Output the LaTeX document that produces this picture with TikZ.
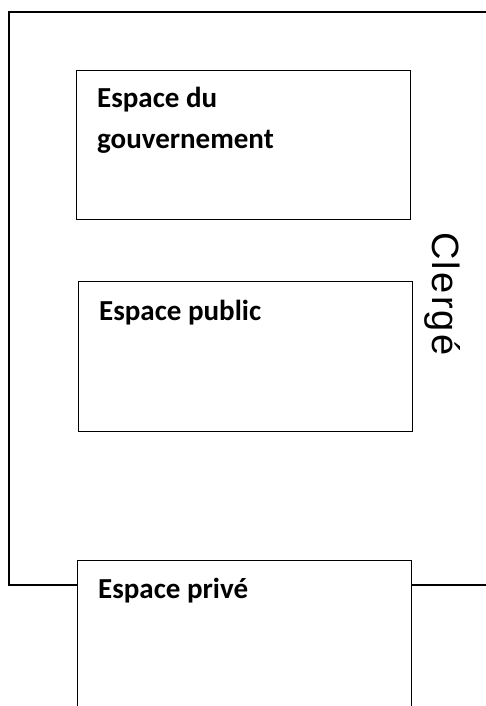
\documentclass[tikz,border=0pt]{standalone}
\usepackage{fontspec}
\setmainfont{Carlito}
\newfontfamily\clergefont{Liberation Sans}[LetterSpace=6]
\begin{document}
\begin{tikzpicture}[x=1pt,y=-1pt,
  frameline/.style={draw=black,line width=1.2pt},
  spacebox/.style={draw=black,line width=1.2pt,rectangle,inner sep=0pt,anchor=north west},
  label/.style={font=\fontsize{29}{40}\selectfont\bfseries,anchor=base west,inner sep=0pt,align=left}]
\useasboundingbox (0,0) rectangle (486,706);
\clip (0,0) rectangle (486,706);
% boxes
\node[spacebox,minimum width=334pt,minimum height=149pt] (gov) at (76,70) {};
\node[spacebox,minimum width=334pt,minimum height=150pt] (pub) at (78,281) {};
\node[spacebox,minimum width=334pt,minimum height=170pt] (priv) at (77,560) {};
% frame
\coordinate (ftr) at (495,12);
\coordinate (fbr) at (495,585);
\coordinate (fbl) at (9,585);
\coordinate (ftl) at (9,12);
\coordinate (pl) at (priv.west |- fbl);
\coordinate (pr) at (priv.east |- fbr);
\draw[frameline] (pl) -- (fbl) -- (ftl) -- (ftr);
\draw[frameline] (pr) -- (fbr);
% labels
\node[label] (govt) at (97,108) {Espace du};
\node[label] (govt2) at (97,148) {gouvernement};
\node[label] (pubt) at (99,320) {Espace public};
\node[label] (privt) at (98,598) {Espace privé};
\node[font=\clergefont\fontsize{38}{38}\selectfont,rotate=-90,anchor=base west,inner sep=0pt] (clerge) at (432,232) {Clergé};
\end{tikzpicture}
\end{document}
